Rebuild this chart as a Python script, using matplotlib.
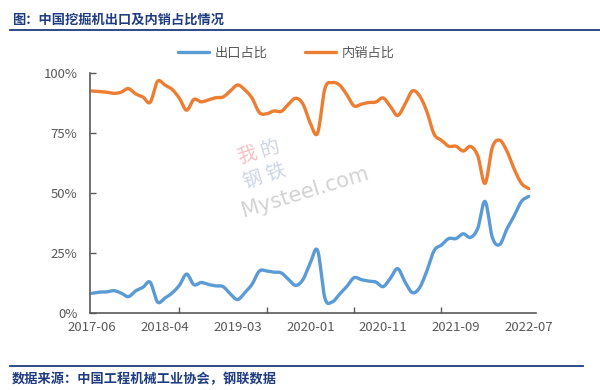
import numpy as np
import matplotlib.pyplot as plt
from matplotlib.lines import Line2D

plt.rcParams['font.family'] = ['Noto Sans CJK SC', 'DejaVu Sans']

# 月度数据 (2017-06 ~ 2022-07, 61 points)
tick_labels = ['2017-06', '2018-04', '2019-03', '2020-01', '2020-11', '2021-09', '2022-07']

export_share = [8.2, 8.7, 8.8, 9.3, 8.3, 6.8, 9.2, 10.7, 12.8, 4.6,
                6.2, 8.3, 11.5, 16.2, 11.8, 12.7, 11.9, 11.3, 11.0, 8.0,
                5.6, 8.5, 12.0, 17.5, 17.5, 17.0, 16.7, 14.0, 11.5, 14.0,
                21.0, 26.0, 6.2, 4.6, 7.8, 11.0, 14.7, 13.9, 13.3, 12.9,
                11.0, 14.5, 18.5, 13.0, 8.5, 10.5, 17.5, 26.0, 28.3, 31.0,
                31.0, 33.0, 31.5, 35.3, 46.5, 31.5, 28.5, 35.0, 40.5, 46.5,
                48.6]

domestic_share = [92.5, 92.3, 92.0, 91.5, 92.0, 93.5, 91.3, 90.0, 87.8, 96.5,
                  95.0, 93.2, 89.5, 84.5, 89.0, 88.0, 88.8, 89.7, 90.0, 92.5,
                  95.0, 93.0, 89.5, 83.5, 83.0, 84.2, 84.0, 87.0, 89.5, 87.0,
                  79.0, 75.0, 93.5, 96.0, 95.0, 91.0, 86.3, 87.0, 87.7, 87.9,
                  89.6, 86.0, 82.3, 87.0, 92.5, 90.5, 84.0, 74.5, 72.0, 69.5,
                  69.5, 67.5, 69.4, 65.5, 54.0, 69.0, 72.0, 67.5, 60.0, 54.0,
                  51.8]


def smooth(y, n=12):
    # Catmull-Rom curve through the points, like Excel's smoothed line
    y = np.asarray(y, dtype=float)
    x = np.arange(len(y), dtype=float)
    p = np.concatenate([[2 * y[0] - y[1]], y, [2 * y[-1] - y[-2]]])
    xs, ys = [], []
    t = np.linspace(0, 1, n, endpoint=False)
    for i in range(len(y) - 1):
        p0, p1, p2, p3 = p[i], p[i + 1], p[i + 2], p[i + 3]
        seg = 0.5 * ((2 * p1) + (-p0 + p2) * t + (2 * p0 - 5 * p1 + 4 * p2 - p3) * t ** 2
                     + (-p0 + 3 * p1 - 3 * p2 + p3) * t ** 3)
        xs.append(x[i] + t)
        ys.append(seg)
    xs.append([x[-1]])
    ys.append([y[-1]])
    return np.concatenate(xs), np.concatenate(ys)


navy = '#1f3c80'
gray = '#595959'

fig = plt.figure(figsize=(6, 3.9), dpi=100)
ax = fig.add_axes([90 / 600, 1 - 313 / 390, 446 / 600, 240 / 390])

# watermark (behind the lines)
fig.text(305 / 600, 1 - 192 / 390, 'Mysteel.com', fontsize=15, color='#c8c8c8',
         rotation=17, ha='center', va='center', family='DejaVu Sans', alpha=0.8, zorder=0)
for ch, (px, py), c in [('我', (247, 156), '#f0a8a8'), ('的', (270, 149), '#b8c2dc'),
                        ('钢', (253, 180), '#b8c2dc'), ('铁', (276, 173), '#b8c2dc')]:
    fig.text(px / 600, 1 - py / 390, ch, fontsize=14, color=c, rotation=17,
             ha='center', va='center', alpha=0.7, zorder=0)
ax.patch.set_alpha(0)

xb, yb = smooth(export_share)
xo, yo = smooth(domestic_share)
ax.plot(xb, yb, color='#5b9bd5', lw=2.4, solid_capstyle='round', label='出口占比')
ax.plot(xo, yo, color='#ed7d31', lw=2.4, solid_capstyle='round', label='内销占比')

ax.set_xlim(-0.27, 61)
ax.set_ylim(0, 100)
ax.set_yticks([0, 25, 50, 75, 100])
ax.set_yticklabels(['0%', '25%', '50%', '75%', '100%'])
ax.set_xticks(np.arange(0, 61, 10))
ax.set_xticklabels(tick_labels)
ax.set_xticks(np.arange(0, 61, 12), minor=True)
ax.tick_params(axis='x', which='major', length=0, pad=6, labelsize=9.5, labelcolor=gray)
ax.tick_params(axis='x', which='minor', direction='in', length=4, width=1, color=gray)
ax.tick_params(axis='y', direction='in', length=4, width=1, color=gray, pad=9,
               labelsize=9.5, labelcolor=gray)
for s in ['top', 'right']:
    ax.spines[s].set_visible(False)
for s in ['left', 'bottom']:
    ax.spines[s].set_color(gray)
    ax.spines[s].set_linewidth(1.2)

fig.legend(loc='center', bbox_to_anchor=(0.477, 1 - 53 / 390), ncol=2, frameon=False,
           fontsize=9.5, labelcolor=gray, handlelength=2.4, handletextpad=0.4,
           columnspacing=2.8)

fig.text(12 / 600, 1 - 20 / 390, '图：中国挖掘机出口及内销占比情况', fontsize=9.5,
         weight='bold', color=navy, va='center')
fig.add_artist(Line2D([10 / 600, 1.0], [1 - 30 / 390] * 2, color=navy, lw=1.3))
fig.add_artist(Line2D([10 / 600, 583 / 600], [1 - 366 / 390] * 2, color=navy, lw=1.3))
fig.text(12 / 600, 1 - 379 / 390, '数据来源：中国工程机械工业协会，钢联数据', fontsize=9.5,
         weight='bold', color=navy, va='center')

fig.savefig('out.png', dpi=100)
